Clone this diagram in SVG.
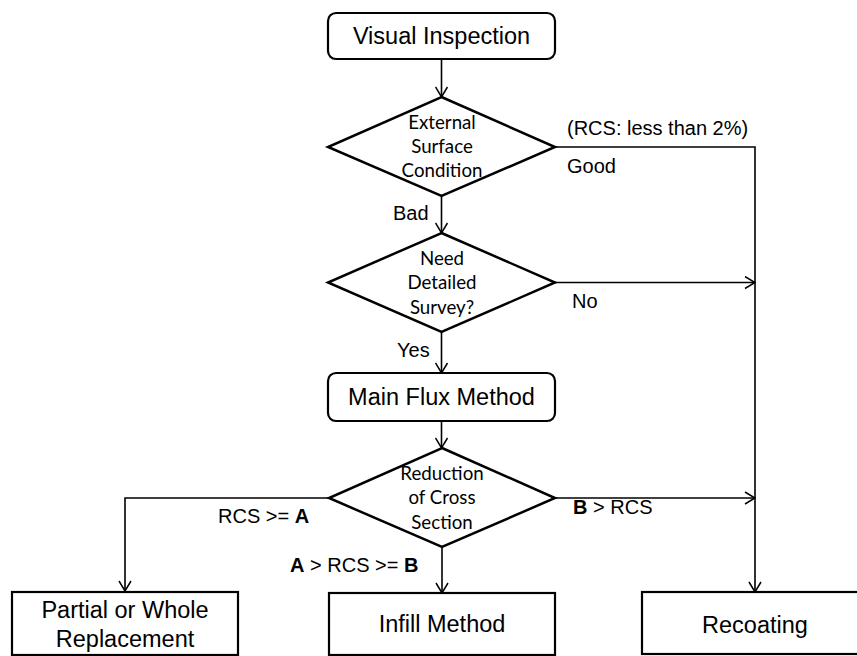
<svg xmlns="http://www.w3.org/2000/svg" width="857" height="656" viewBox="0 0 857 656">
<style>
.box{fill:#fff;stroke:#000;stroke-width:2.2}
.dia{fill:#fff;stroke:#000;stroke-width:2.5}
.t{font-family:"Liberation Sans",Arial,sans-serif;font-size:20px;fill:#000}
.b{font-family:"Liberation Sans",Arial,sans-serif;font-size:23.5px;fill:#000;text-anchor:middle}
.d{font-family:Lato,"Open Sans",sans-serif;font-size:18.7px;fill:#000;text-anchor:middle}
.ln{fill:none;stroke:#000;stroke-width:1.6;marker-end:url(#ah)}
</style>
<defs>
<marker id="ah" viewBox="0 0 12 14" refX="11" refY="7" markerWidth="12" markerHeight="14" markerUnits="userSpaceOnUse" orient="auto">
<polyline points="1,1 11,7 1,13" fill="none" stroke="#000" stroke-width="1.5"/>
</marker>
</defs>
<rect width="857" height="656" fill="#fff"/>
<g id="connectors">
<path class="ln" d="M441.5,59 V97"/>
<path class="ln" d="M555,147 H755 V592"/>
<path class="ln" d="M441.5,196 V233"/>
<path class="ln" d="M555,282.5 H755"/>
<path class="ln" d="M441.5,332 V373"/>
<path class="ln" d="M441.5,421 V448"/>
<path class="ln" d="M329,498 H125 V591"/>
<path class="ln" d="M442,547 V593"/>
<path class="ln" d="M555,498 H755"/>
<text class="t" x="567" y="135">(RCS: less than 2%)</text>
<text class="t" x="567" y="173">Good</text>
<text class="t" x="393" y="220">Bad</text>
<text class="t" x="572" y="308">No</text>
<text class="t" x="397" y="357">Yes</text>
<text class="t" x="218" y="523">RCS &gt;= <tspan font-weight="bold">A</tspan></text>
<text class="t" x="290" y="572"><tspan font-weight="bold">A</tspan> &gt; RCS &gt;= <tspan font-weight="bold">B</tspan></text>
<text class="t" x="573" y="514"><tspan font-weight="bold">B</tspan> &gt; RCS</text>
</g>
<g id="visual">
<rect class="box" x="328" y="13" width="227" height="46" rx="8"/>
<text class="b" x="441.5" y="44">Visual Inspection</text>
</g>
<g id="external">
<polygon class="dia" points="441.5,97 555,147 441.5,196 328,147"/>
<text class="d" x="442" y="129">External</text>
<text class="d" x="442" y="153">Surface</text>
<text class="d" x="442" y="177">Condition</text>
</g>
<g id="need">
<polygon class="dia" points="441.5,233 555,282.5 441.5,332 328,282.5"/>
<text class="d" x="442" y="265">Need</text>
<text class="d" x="442" y="289">Detailed</text>
<text class="d" x="442" y="314">Survey?</text>
</g>
<g id="mainflux">
<rect class="box" x="328" y="373" width="227" height="48" rx="8"/>
<text class="b" x="441.5" y="405">Main Flux Method</text>
</g>
<g id="reduction">
<polygon class="dia" points="442,448 555,498 442,547 329,498"/>
<text class="d" x="442" y="480">Reduction</text>
<text class="d" x="442" y="504">of Cross</text>
<text class="d" x="442" y="529">Section</text>
</g>
<g id="partial">
<rect class="box" x="12" y="592" width="226" height="63"/>
<text class="b" x="125" y="618">Partial or Whole</text>
<text class="b" x="125" y="647">Replacement</text>
</g>
<g id="infill">
<rect class="box" x="329" y="593" width="226" height="62"/>
<text class="b" x="442" y="632">Infill Method</text>
</g>
<g id="recoating">
<rect class="box" x="642" y="592" width="226" height="62"/>
<text class="b" x="755" y="633">Recoating</text>
</g>
</svg>
